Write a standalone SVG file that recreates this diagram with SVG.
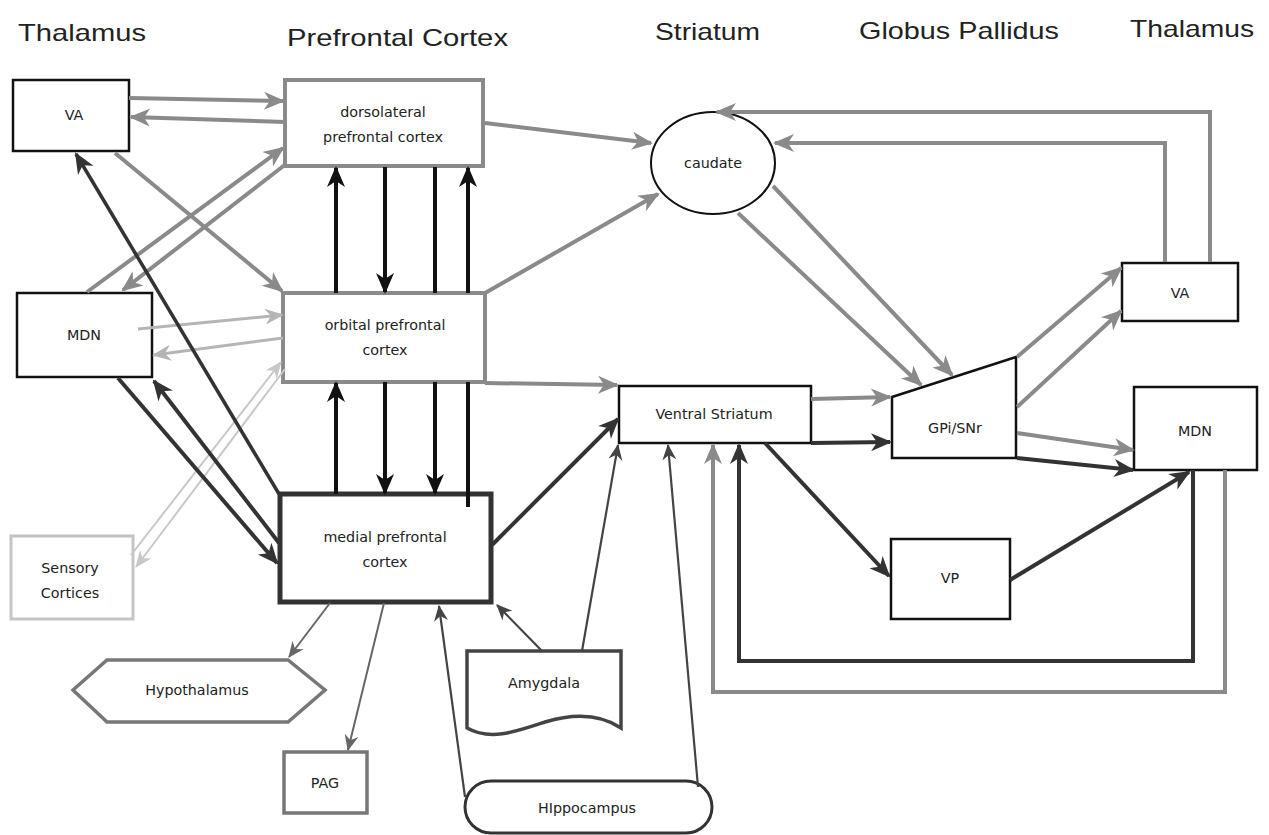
<svg xmlns="http://www.w3.org/2000/svg" width="1269" height="835" viewBox="0 0 1269 835">
<style>
.t{font-family:"DejaVu Sans","Liberation Sans",sans-serif;font-size:14.3px;fill:#222;text-anchor:middle;dominant-baseline:central}
.h{font-family:"Liberation Sans",Arial,sans-serif;font-size:24px;fill:#222}
.nb{fill:#fff;stroke:#111;stroke-width:2.5}
.ng{fill:#fff;stroke:#8a8a8a;stroke-width:4}
.c path{fill:none}
.g{stroke:#8a8a8a;stroke-width:4;marker-end:url(#mg)}
.l{stroke:#b5b5b5;stroke-width:3;marker-end:url(#ml)}
.v{stroke:#c8c8c8;stroke-width:2;marker-end:url(#mv)}
.d{stroke:#333;stroke-width:4;marker-end:url(#md)}
.k{stroke:#111;stroke-width:4;marker-end:url(#mk)}
.kn{stroke:#111;stroke-width:4}
.th{stroke:#444;stroke-width:2.2;marker-end:url(#mt)}
.tg{stroke:#666;stroke-width:2;marker-end:url(#mtg)}
</style>
<defs>
<marker id="mg" viewBox="-23 -11 25 22" refX="-2" refY="0" markerWidth="25" markerHeight="22" markerUnits="userSpaceOnUse" orient="auto"><path d="M0,0 L-21,-9 L-15,0 L-21,9 Z" fill="#8a8a8a"/></marker>
<marker id="ml" viewBox="-23 -11 25 22" refX="-2" refY="0" markerWidth="25" markerHeight="22" markerUnits="userSpaceOnUse" orient="auto"><path d="M0,0 L-19,-8 L-13,0 L-19,8 Z" fill="#b5b5b5"/></marker>
<marker id="mv" viewBox="-23 -11 25 22" refX="-1" refY="0" markerWidth="25" markerHeight="22" markerUnits="userSpaceOnUse" orient="auto"><path d="M0,0 L-17,-7 L-12,0 L-17,7 Z" fill="#c8c8c8"/></marker>
<marker id="md" viewBox="-23 -11 25 22" refX="-2" refY="0" markerWidth="25" markerHeight="22" markerUnits="userSpaceOnUse" orient="auto"><path d="M0,0 L-21,-9 L-15,0 L-21,9 Z" fill="#333"/></marker>
<marker id="mk" viewBox="-23 -11 25 22" refX="-2" refY="0" markerWidth="25" markerHeight="22" markerUnits="userSpaceOnUse" orient="auto"><path d="M0,0 L-21,-9 L-15,0 L-21,9 Z" fill="#111"/></marker>
<marker id="mt" viewBox="-18 -9 20 18" refX="-1" refY="0" markerWidth="20" markerHeight="18" markerUnits="userSpaceOnUse" orient="auto"><path d="M0,0 L-16,-7 L-11,0 L-16,7 Z" fill="#444"/></marker>
<marker id="mtg" viewBox="-18 -9 20 18" refX="-1" refY="0" markerWidth="20" markerHeight="18" markerUnits="userSpaceOnUse" orient="auto"><path d="M0,0 L-16,-7 L-11,0 L-16,7 Z" fill="#666"/></marker>
</defs>
<rect width="1269" height="835" fill="#fff"/>
<g id="titles">
<text class="h" x="18" y="41" textLength="128" lengthAdjust="spacingAndGlyphs">Thalamus</text>
<text class="h" x="287" y="46" textLength="221" lengthAdjust="spacingAndGlyphs">Prefrontal Cortex</text>
<text class="h" x="655" y="40" textLength="105" lengthAdjust="spacingAndGlyphs">Striatum</text>
<text class="h" x="859" y="39" textLength="200" lengthAdjust="spacingAndGlyphs">Globus Pallidus</text>
<text class="h" x="1130" y="37" textLength="124" lengthAdjust="spacingAndGlyphs">Thalamus</text>
</g>
<g id="nodes">
<g id="va-left"><rect class="nb" x="13" y="80" width="116" height="71"/><text class="t" x="74" y="115">VA</text></g>
<g id="mdn-left"><rect class="nb" x="17" y="293" width="135" height="84"/><text class="t" x="84" y="335">MDN</text></g>
<g id="dlpfc"><rect class="ng" x="285" y="80" width="198" height="86"/><text class="t" x="383" y="112">dorsolateral</text><text class="t" x="383" y="137">prefrontal cortex</text></g>
<g id="ofc"><rect class="ng" x="283" y="293" width="202" height="89"/><text class="t" x="385" y="325">orbital prefrontal</text><text class="t" x="385" y="350">cortex</text></g>
<g id="mpfc"><rect x="280" y="494" width="211" height="108" fill="#fff" stroke="#333" stroke-width="5"/><text class="t" x="385" y="537">medial prefrontal</text><text class="t" x="385" y="562">cortex</text></g>
<g id="sensory"><rect x="11" y="536" width="122" height="83" fill="#fff" stroke="#c4c4c4" stroke-width="3"/><text class="t" x="70" y="568">Sensory</text><text class="t" x="70" y="593">Cortices</text></g>
<g id="hypothalamus"><polygon points="73,690 107,660 288,660 325,690 288,722 107,722" fill="#fff" stroke="#777" stroke-width="3.5"/><text class="t" x="197" y="690">Hypothalamus</text></g>
<g id="pag"><rect x="284" y="752" width="83" height="61" fill="#fff" stroke="#777" stroke-width="3.5"/><text class="t" x="325" y="783">PAG</text></g>
<g id="amygdala"><path d="M467,651 H621 V728 C600,714 575,713 545,722 C515,732 490,741 467,728 Z" fill="#fff" stroke="#444" stroke-width="3.5"/><text class="t" x="544" y="683">Amygdala</text></g>
<g id="hippocampus"><rect x="465" y="781" width="247" height="52" rx="26" ry="26" fill="#fff" stroke="#333" stroke-width="3"/><text class="t" x="587" y="808">HIppocampus</text></g>
<g id="caudate"><ellipse cx="713" cy="163" rx="62" ry="51" fill="#fff" stroke="#111" stroke-width="2"/><text class="t" x="713" y="163">caudate</text></g>
<g id="ventral-striatum"><rect class="nb" x="619" y="386" width="192" height="57"/><text class="t" x="714" y="414">Ventral Striatum</text></g>
<g id="gpi-snr"><polygon points="892,397 1016,357 1016,458 892,458" class="nb"/><text class="t" x="955" y="428">GPi/SNr</text></g>
<g id="va-right"><rect class="nb" x="1122" y="263" width="116" height="58"/><text class="t" x="1180" y="293">VA</text></g>
<g id="mdn-right"><rect class="nb" x="1134" y="387" width="123" height="83"/><text class="t" x="1195" y="431">MDN</text></g>
<g id="vp"><rect class="nb" x="891" y="539" width="119" height="80"/><text class="t" x="950" y="578">VP</text></g>
</g>
<g id="connectors" class="c">
<path class="g" d="M129,98 L283,101"/>
<path class="g" d="M285,122 L131,117"/>
<path class="g" d="M115,153 L282,291"/>
<path class="g" d="M87,292 L283,148"/>
<path class="g" d="M286,164 L123,290"/>
<path class="g" d="M485,123 L651,143"/>
<path class="g" d="M485,293 L658,194"/>
<path class="g" d="M485,383 L617,385"/>
<path class="g" d="M811,399 L890,397"/>
<path class="g" d="M738,213 L921,385"/>
<path class="g" d="M773,186 L952,375"/>
<path class="g" d="M1017,357 L1121,268"/>
<path class="g" d="M1017,407 L1121,311"/>
<path class="g" d="M1017,433 L1133,450"/>
<path class="g" d="M1210,262 V112 H717"/>
<path class="g" d="M1165,262 V143 H775"/>
<path class="g" d="M1225,470 V692 H713 V445"/>
<path class="l" d="M138,329 L282,315"/>
<path class="l" d="M283,338 L154,355"/>
<path class="v" d="M131,555 L281,362"/>
<path class="v" d="M285,369 L136,567"/>
<path class="d" style="stroke-width:3.5" d="M279,494 L76,154"/>
<path class="d" d="M118,378 L277,563"/>
<path class="d" d="M279,543 L154,381"/>
<path class="d" d="M492,545 L618,419"/>
<path class="d" d="M811,443 L890,442"/>
<path class="d" d="M765,443 L889,576"/>
<path class="d" d="M1010,580 L1189,472"/>
<path class="d" d="M1193,470 V661 H739 V445"/>
<path class="d" d="M1017,458 L1133,470"/>
<path class="k" d="M336,293 L336,168"/>
<path class="k" d="M385,167 L385,292"/>
<path class="kn" d="M435,167 L435,293"/>
<path class="k" d="M435,382 L435,493"/>
<path class="kn" d="M468,507 L468,382"/>
<path class="k" d="M468,293 L468,168"/>
<path class="k" d="M336,494 L336,383"/>
<path class="k" d="M385,382 L385,493"/>
<path class="th" d="M542,651 L497,605"/>
<path class="th" d="M582,651 L618,445"/>
<path class="th" d="M465,797 L439,606"/>
<path class="th" d="M698,787 L668,445"/>
<path class="tg" d="M330,603 L289,657"/>
<path class="tg" d="M384,603 L348,750"/>
</g>
</svg>
